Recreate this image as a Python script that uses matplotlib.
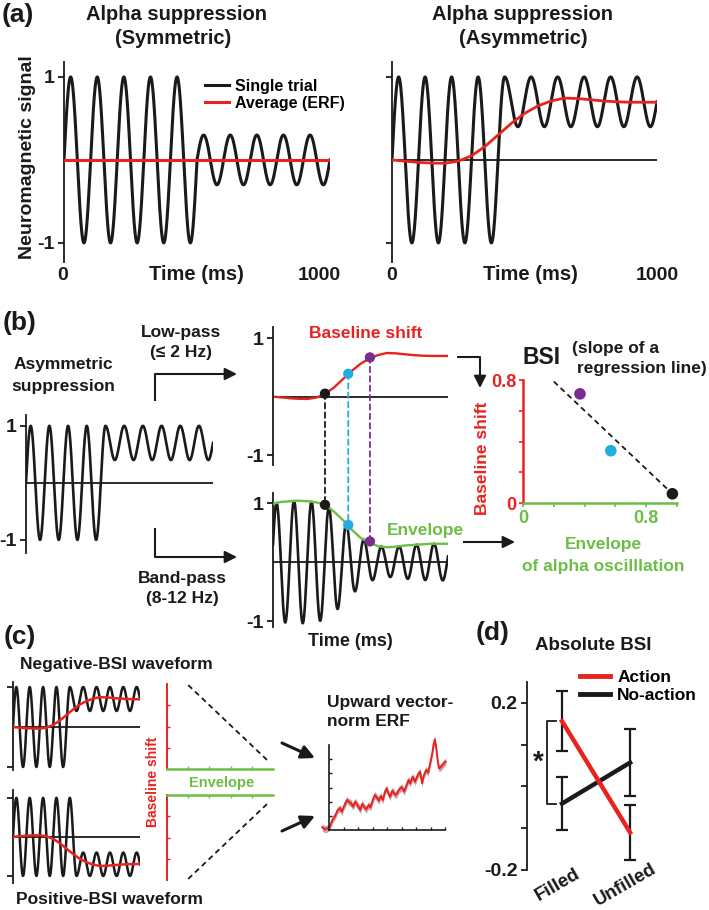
import numpy as np
import matplotlib
matplotlib.use("Agg")
import matplotlib.pyplot as plt
from matplotlib.patches import ConnectionPatch
from matplotlib.lines import Line2D

plt.rcParams['font.family'] = ['Liberation Sans', 'DejaVu Sans']
plt.rcParams['font.weight'] = 'bold'

INK = '#1a1a1a'
RED = '#e8231f'
GREEN = '#6cbe45'
CYAN = '#27aae1'
PURPLE = '#7b2d8e'

# ---------------- data ----------------
n_cycles = 10
# (switch time, offset after switch, amplitude after switch)
sym_wave = (0.5, 0.0, 0.3)
asym_wave = (0.425, 0.7, 0.3)
pos_wave = (0.475, -0.7, 0.3)

erf_t = np.linspace(0, 1, 21)
erf_sym = [0.0] * 21
erf_asym = [0.0, -0.015, -0.03, -0.038, -0.04, -0.015, 0.05, 0.16, 0.30, 0.44, 0.56,
            0.65, 0.71, 0.745, 0.74, 0.725, 0.71, 0.70, 0.695, 0.695, 0.695]
envelope = [0.99, 1.02, 1.03, 1.04, 1.03, 1.01, 0.97, 0.85, 0.71, 0.55, 0.41,
            0.33, 0.27, 0.25, 0.26, 0.28, 0.29, 0.30, 0.31, 0.31, 0.31]
band_phase = 0.02

# time points marked in (b)
mark_t = [0.297, 0.43, 0.554]
mark_colors = [INK, CYAN, PURPLE]
mark_shift = [0.05, 0.39, 0.67]
mark_env = [0.97, 0.63, 0.35]

# BSI scatter
bsi_env = [0.97, 0.57, 0.37]
bsi_shift = [0.06, 0.34, 0.71]
reg_x = [0.2, 0.97]
reg_y = [0.79, 0.06]

# (c) upward vector-norm ERF
vn_x = [-0.47, -0.28, -0.09, 0.07, 0.23, 0.42, 0.60, 0.77, 0.88, 1.07, 1.23, 1.35, 1.53,
        1.65, 1.81, 2.00, 2.16, 2.28, 2.44, 2.56, 2.74, 2.86, 3.02, 3.16, 3.33, 3.44,
        3.56, 3.72, 3.86, 3.98, 4.09, 4.21, 4.37, 4.56, 4.67, 4.84, 5.02, 5.19, 5.35,
        5.49, 5.60, 5.77, 5.93, 6.12, 6.28, 6.42, 6.51, 6.70, 6.84, 6.98, 7.12, 7.21,
        7.30, 7.40, 7.49, 7.58, 7.74, 7.91, 8.05]
vn_y = [0.19, 0.05, 0.12, 0.24, 0.71, 0.99, 1.41, 1.53, 1.29, 1.76, 2.12, 2.00, 1.88,
        1.65, 2.00, 1.69, 1.41, 1.84, 1.60, 1.46, 1.76, 1.60, 2.12, 2.47, 2.24, 2.07,
        2.40, 2.12, 2.71, 2.94, 2.59, 2.35, 2.78, 2.47, 2.54, 2.87, 3.01, 2.71, 3.18,
        3.53, 3.29, 3.76, 3.41, 3.88, 4.12, 3.29, 3.76, 4.24, 4.05, 4.71, 5.41, 6.0,
        6.4, 5.76, 4.94, 4.35, 4.47, 4.71, 4.82]
vn_sem = 0.25

# (d) absolute BSI
conditions = ['Filled', 'Unfilled']
action_mean = [0.156, -0.11]
action_err = [0.072, 0.066]
noaction_mean = [-0.041, 0.057]
noaction_err = [0.063, 0.081]

# ---------------- figure ----------------
W, H = 709, 910
fig = plt.figure(figsize=(W / 100, H / 100), dpi=100)


def add_ax(x0, y0, x1, y1):
    ax = fig.add_axes([x0 / W, 1 - y1 / H, (x1 - x0) / W, (y1 - y0) / H])
    ax.patch.set_visible(False)
    return ax


def ftext(x, y, s, **kw):
    kw.setdefault('ha', 'center')
    kw.setdefault('va', 'center')
    kw.setdefault('color', INK)
    return fig.text(x / W, 1 - y / H, s, **kw)


def wave_ax(ax, ylim, xlim=(0, 1), labels=True, size=14):
    for side in ['top', 'right', 'bottom']:
        ax.spines[side].set_visible(False)
    ax.spines['left'].set_linewidth(1.3)
    ax.spines['left'].set_color(INK)
    ax.axhline(0, color=INK, lw=1.3, zorder=1)
    ax.set_xticks([])
    ax.set_yticks([-1, 1])
    ax.set_yticklabels(['-1', '1'] if labels else [])
    ax.tick_params(axis='y', length=4, width=1.3, pad=3, labelsize=size, colors=INK)
    ax.set_xlim(*xlim)
    ax.set_ylim(*ylim)


t = np.linspace(0, 1, 3000)


def wave(params):
    switch, offset, amp = params
    s = np.sin(2 * np.pi * n_cycles * t)
    return np.where(t < switch, s, offset + amp * s)


# ---------- (a) ----------
ax = add_ax(64, 62, 330, 262)
wave_ax(ax, (-1.23, 1.18))
ax.plot(t, wave(sym_wave), color=INK, lw=2.2, label='Single trial', zorder=2)
ax.plot(erf_t, erf_sym, color=RED, lw=2.2, label='Average (ERF)', zorder=3)
ax.legend(loc='upper left', bbox_to_anchor=((205 - 64) / 266, (262 - 79) / 200),
          frameon=False, fontsize=11.5, handlelength=1.5, handletextpad=0.4,
          labelspacing=0.12, borderpad=0, borderaxespad=0)
ftext(18, 15, '(a)', fontsize=19)
ftext(176, 14, 'Alpha suppression', fontsize=14.5)
ftext(173, 39, '(Symmetric)', fontsize=14.5)
ftext(27, 157, 'Neuromagnetic signal', fontsize=14, rotation=90)
ftext(63, 275, '0', fontsize=14)
ftext(196, 275, 'Time (ms)', fontsize=14.5)
ftext(319, 275, '1000', fontsize=14)

ax = add_ax(392, 62, 657, 262)
wave_ax(ax, (-1.23, 1.18), labels=False)
ax.plot(t, wave(asym_wave), color=INK, lw=2.2, zorder=2)
ax.plot(erf_t, erf_asym, color=RED, lw=2.0, zorder=3)
ftext(522, 14, 'Alpha suppression', fontsize=14.5)
ftext(523, 39, '(Asymmetric)', fontsize=14.5)
ftext(392, 275, '0', fontsize=14)
ftext(530, 275, 'Time (ms)', fontsize=14.5)
ftext(657, 275, '1000', fontsize=14)

# ---------- (b) ----------
ftext(20, 323, '(b)', fontsize=19)
ftext(63, 365, 'Asymmetric', fontsize=12.5)
ftext(63, 386, 'suppression', fontsize=12.5)
ftext(181, 332, 'Low-pass', fontsize=12.5)
ftext(181, 353, '(≤ 2 Hz)', fontsize=12.5)
ftext(182, 578, 'Band-pass', fontsize=12.5)
ftext(182, 599, '(8-12 Hz)', fontsize=12.5)

ax = add_ax(26, 415, 213, 553)
wave_ax(ax, (-1.23, 1.19))
ax.plot(t, wave(asym_wave), color=INK, lw=1.9, zorder=2)

ax_bs = add_ax(273, 327, 448, 465)
wave_ax(ax_bs, (-1.17, 1.19))
ax_bs.plot(erf_t, erf_asym, color=RED, lw=1.7, zorder=2)
ax_bs.scatter(mark_t, mark_shift, s=55, c=mark_colors, zorder=4, linewidths=0)
ftext(366, 334, 'Baseline shift', fontsize=12.5, color=RED)

ax_bp = add_ax(273, 493, 448, 627)
wave_ax(ax_bp, (-1.10, 1.17))
env_fine = np.interp(t, erf_t, envelope)
ax_bp.plot(t, env_fine * np.cos(2 * np.pi * n_cycles * (t - band_phase)),
           color=INK, lw=1.9, zorder=2)
ax_bp.plot(erf_t, envelope, color=GREEN, lw=1.7, zorder=3)
ax_bp.scatter(mark_t, mark_env, s=55, c=mark_colors, zorder=4, linewidths=0)
ftext(425, 530, 'Envelope', fontsize=12.5, color=GREEN)
ftext(350, 642, 'Time (ms)', fontsize=13)

for tm, sh, en, col in zip(mark_t, mark_shift, mark_env, mark_colors):
    con = ConnectionPatch(xyA=(tm, sh), coordsA=ax_bs.transData,
                          xyB=(tm, en), coordsB=ax_bp.transData,
                          color=col, lw=1.3, linestyle=(0, (3, 2.2)), zorder=1)
    fig.add_artist(con)

# BSI scatter
ax = add_ax(523, 380, 677, 503)
for side in ['top', 'right']:
    ax.spines[side].set_visible(False)
ax.spines['left'].set_color(RED)
ax.spines['bottom'].set_color(GREEN)
ax.spines['left'].set_linewidth(1.8)
ax.spines['bottom'].set_linewidth(1.8)
ax.set_xlim(0, 1.0)
ax.set_ylim(0, 0.8)
ax.set_xticks([0, 0.2, 0.4, 0.6, 0.8, 1.0])
ax.set_xticklabels(['0', '', '', '', '0.8', ''])
ax.set_yticks([0, 0.2, 0.4, 0.6, 0.8])
ax.set_yticklabels(['0', '', '', '', '0.8'])
ax.tick_params(axis='x', colors=GREEN, length=3, width=1.2, labelsize=13, pad=2)
ax.tick_params(axis='y', colors=RED, length=3, width=1.2, labelsize=13, pad=2)
ax.plot(reg_x, reg_y, color=INK, lw=1.3, linestyle=(0, (3, 2.2)), zorder=2)
ax.scatter(bsi_env, bsi_shift, s=70, c=[INK, CYAN, PURPLE], zorder=3,
           linewidths=0, clip_on=False)
ftext(482, 458, 'Baseline shift', fontsize=12.5, color=RED, rotation=90)
ftext(603, 545, 'Envelope', fontsize=12.5, color=GREEN)
ftext(603, 567, 'of alpha oscilllation', fontsize=12.5, color=GREEN)
ftext(542, 357, 'BSI', fontsize=16.5)
ftext(572, 348, '(slope of a', fontsize=12.5, ha='left')
ftext(707, 369, 'regression line)', fontsize=12.5, ha='right')

# ---------- (c) ----------
ftext(20, 637, '(c)', fontsize=19)
ftext(116, 665, 'Negative-BSI waveform', fontsize=12.5)
ftext(109, 900, 'Positive-BSI waveform', fontsize=12.5)

ax = add_ax(13, 682, 140, 770)
wave_ax(ax, (-1.075, 1.125), xlim=(0, 0.95), labels=False)
ax.plot(t, wave(asym_wave), color=INK, lw=1.8, zorder=2)
ax.plot(erf_t, erf_asym, color=RED, lw=1.8, zorder=3)

ax = add_ax(13, 790, 140, 883)
wave_ax(ax, (-1.18, 1.2), xlim=(0, 0.95), labels=False)
ax.plot(t, wave(pos_wave), color=INK, lw=1.8, zorder=2)
ax.plot(erf_t, -np.array(erf_asym), color=RED, lw=1.8, zorder=3)

for (y0, y1), inverted in [((684, 769), False), ((795, 880), True)]:
    ax = add_ax(167, y0, 273, y1)
    ax.spines['right'].set_visible(False)
    ax.spines['top' if not inverted else 'bottom'].set_visible(False)
    ax.spines['left'].set_color(RED)
    ax.spines['left'].set_linewidth(1.4)
    xs = 'top' if inverted else 'bottom'
    ax.spines[xs].set_color(GREEN)
    ax.spines[xs].set_linewidth(1.8)
    ax.set_xlim(0, 1)
    if inverted:
        ax.set_ylim(0.8, 0)
        ax.xaxis.tick_top()
    else:
        ax.set_ylim(0, 0.8)
    ax.set_xticks([0.2, 0.4, 0.6, 0.8])
    ax.set_yticks([0.2, 0.4, 0.6])
    ax.tick_params(axis='x', colors=GREEN, direction='in', length=2.5, width=1,
                   labelbottom=False, labeltop=False)
    ax.tick_params(axis='y', colors=RED, direction='in', length=2.5, width=1,
                   labelleft=False)
    ax.plot(reg_x, reg_y, color=INK, lw=1.3, linestyle=(0, (3, 2.2)), clip_on=False)
ftext(153, 782, 'Baseline shift', fontsize=10, color=RED, rotation=90)
ftext(222, 783, 'Envelope', fontsize=10.5, color=GREEN)

ftext(327, 702, 'Upward vector-', fontsize=12.5, ha='left')
ftext(327, 721, 'norm ERF', fontsize=12.5, ha='left')

ax = add_ax(329, 745, 445, 830)
for side in ['top', 'right']:
    ax.spines[side].set_visible(False)
for side in ['left', 'bottom']:
    ax.spines[side].set_linewidth(1.2)
    ax.spines[side].set_color(INK)
ax.set_xlim(0, 8)
ax.set_ylim(0, 6)
ax.set_xticks(range(1, 9))
ax.set_yticks(range(1, 6))
ax.tick_params(direction='in', length=2.5, width=1, labelbottom=False,
               labelleft=False, colors=INK)
vy = np.array(vn_y)
ax.fill_between(vn_x, vy - vn_sem, vy + vn_sem, color='#c48a8e', alpha=0.85,
                lw=0, clip_on=False)
ax.plot(vn_x, vn_y, color=RED, lw=1.4, clip_on=False)

# ---------- (d) ----------
ftext(493, 633, '(d)', fontsize=19)
ftext(593, 645, 'Absolute BSI', fontsize=13.5)
ax = add_ax(527, 682, 660, 870)
for side in ['top', 'right', 'bottom']:
    ax.spines[side].set_visible(False)
ax.spines['left'].set_linewidth(1.3)
ax.spines['left'].set_color(INK)
xpos = np.arange(len(conditions))
ax.errorbar(xpos, action_mean, yerr=action_err, fmt='none', ecolor=INK,
            elinewidth=1.6, capsize=4, capthick=1.6, zorder=2)
ax.errorbar(xpos, noaction_mean, yerr=noaction_err, fmt='none', ecolor=INK,
            elinewidth=1.6, capsize=4, capthick=1.6, zorder=2)
ax.plot(xpos, noaction_mean, color=INK, lw=3.2, zorder=3, label='No-action')
ax.plot(xpos, action_mean, color=RED, lw=3.2, zorder=4, label='Action')
ax.set_xlim(-0.515, 1.44)
ax.set_ylim(-0.2, 0.25)
ax.set_xticks([])
ax.set_yticks([-0.2, -0.1, 0, 0.1, 0.2])
ax.set_yticklabels(['-0.2', '', '', '', '0.2'])
ax.tick_params(axis='y', length=4, width=1.3, labelsize=14, pad=3, colors=INK)
for x, name in zip(xpos, conditions):
    ax.text(x - 0.07, -0.235, name, rotation=30, ha='center', va='center',
            fontsize=13.5, color=INK)
# significance bracket between conditions at "Filled"
bx0, bx1 = -0.22, -0.09
ax.plot([bx1, bx0, bx0, bx1], [action_mean[0], action_mean[0],
                               noaction_mean[0], noaction_mean[0]],
        color=INK, lw=1.3, clip_on=False)
ax.text(-0.35, (action_mean[0] + noaction_mean[0]) / 2, '*', fontsize=20,
        ha='center', va='center', color=INK)
handles = [Line2D([], [], color=RED, lw=3.5), Line2D([], [], color=INK, lw=3.5)]
ax.legend(handles, ['Action', 'No-action'], loc='upper left',
          bbox_to_anchor=((580 - 527) / 133, (870 - 670) / 188), frameon=False,
          fontsize=12.5, handlelength=1.75, handletextpad=0.4, labelspacing=0.15,
          borderpad=0, borderaxespad=0)

# ---------- arrows ----------
ov = fig.add_axes([0, 0, 1, 1])
ov.set_xlim(0, W)
ov.set_ylim(H, 0)
ov.axis('off')
ov.patch.set_visible(False)


def elbow(points, lw=1.5, scale=18):
    xs, ys = zip(*points)
    ov.plot(xs[:-1], ys[:-1], color=INK, lw=lw, solid_capstyle='butt')
    ov.annotate('', xy=points[-1], xytext=points[-2],
                arrowprops=dict(arrowstyle='-|>', color=INK, lw=lw,
                                mutation_scale=scale, shrinkA=0, shrinkB=0))


elbow([(155, 401), (155, 374), (200, 374), (237, 374)])
elbow([(155, 528), (155, 557), (200, 557), (237, 557)])
elbow([(457, 357), (480, 357), (480, 388)])
elbow([(463, 542), (490, 542), (515, 542)])
elbow([(282, 743), (315, 758)], lw=2.2, scale=20)
elbow([(282, 831), (315, 816)], lw=2.2, scale=20)

fig.savefig('out.png', dpi=100)
